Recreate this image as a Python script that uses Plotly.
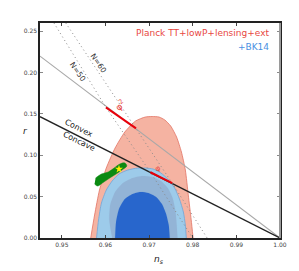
import plotly.graph_objects as go

# ---- data ----
salmon_ns = [0.95662, 0.95751, 0.95863, 0.96019, 0.96221, 0.96444, 0.96690, 0.96914, 0.97070,
             0.97227, 0.97361, 0.97495, 0.97630, 0.97741, 0.97831, 0.97898, 0.97965, 0.98009]
salmon_r = [0.0, 0.0278, 0.0580, 0.0846, 0.1088, 0.1282, 0.1415, 0.1463, 0.1469,
            0.1463, 0.1427, 0.1354, 0.1221, 0.1040, 0.0822, 0.0520, 0.0218, 0.0]

lblue_ns = [0.95796, 0.95841, 0.95908, 0.96019, 0.96154, 0.96310, 0.96511, 0.96735, 0.96914,
            0.97093, 0.97271, 0.97428, 0.97585, 0.97696, 0.97786, 0.97831, 0.97853]
lblue_r = [0.0, 0.0218, 0.0423, 0.0580, 0.0689, 0.0774, 0.0822, 0.0846, 0.0846,
           0.0834, 0.0786, 0.0713, 0.0605, 0.0472, 0.0314, 0.0157, 0.0]

gblue_ns = [0.96154, 0.96087, 0.96109, 0.96221, 0.96400, 0.96623, 0.96847, 0.97070,
            0.97271, 0.97428, 0.97540, 0.97607, 0.97652]
gblue_r = [0.0, 0.0218, 0.0399, 0.0556, 0.0665, 0.0726, 0.0750, 0.0738,
           0.0689, 0.0605, 0.0484, 0.0314, 0.0]

dblue_ns = [0.96221, 0.96243, 0.96310, 0.96444, 0.96623, 0.96802, 0.96981, 0.97160,
            0.97294, 0.97383, 0.97450, 0.97473]
dblue_r = [0.0, 0.0193, 0.0351, 0.0472, 0.0532, 0.0556, 0.0544, 0.0496,
           0.0411, 0.0302, 0.0157, 0.0]

green_ns = [0.95774, 0.95908, 0.96064, 0.96198, 0.96332, 0.96444, 0.96489, 0.96377,
            0.96243, 0.96064, 0.95930, 0.95818, 0.95751]
green_r = [0.0726, 0.0774, 0.0798, 0.0846, 0.0895, 0.0907, 0.0871, 0.0822,
           0.0774, 0.0713, 0.0665, 0.0629, 0.0653]
star_ns = [0.96310]
star_r = [0.0834]

gray_line_ns = [0.945, 1.0]
gray_line_r = [0.22, 0.0]
convex_line_ns = [0.945, 1.0]
convex_line_r = [0.1467, 0.0]

phi2_ns = [0.9601, 0.9670]
phi2_r = [0.158, 0.1325]
phi1_ns = [0.9703, 0.9753]
phi1_r = [0.0795, 0.0663]

n50_ns = [0.9482, 0.9601, 0.9703, 0.9800]
n50_r = [0.26, 0.158, 0.0795, 0.0]
n60_ns = [0.9509, 0.9670, 0.9753, 0.9833]
n60_r = [0.26, 0.1325, 0.0663, 0.0]

x_ticks = [0.95, 0.96, 0.97, 0.98, 0.99, 1.00]
x_ticklabels = ["0.95", "0.96", "0.97", "0.98", "0.99", "1.00"]
y_ticks = [0.00, 0.05, 0.10, 0.15, 0.20, 0.25]
y_ticklabels = ["0.00", "0.05", "0.10", "0.15", "0.20", "0.25"]

FONT = "DejaVu Sans"

fig = go.Figure()


def region(xs, ys, fill, line, width=0.8):
    fig.add_trace(go.Scatter(x=xs, y=ys, mode="lines", fill="toself", fillcolor=fill,
                             line=dict(color=line, width=width, shape="spline", smoothing=0.6),
                             hoverinfo="skip", showlegend=False))


region(salmon_ns, salmon_r, "#f5b3a2", "#e27464")
region(lblue_ns, lblue_r, "#9dcbea", "#6ea6d8")
region(gblue_ns, gblue_r, "#93b4d6", "#93b4d6", 0.1)
region(dblue_ns, dblue_r, "#2866cc", "#2866cc", 0.1)


def line(xs, ys, color, width, dash="solid"):
    fig.add_trace(go.Scatter(x=xs, y=ys, mode="lines", line=dict(color=color, width=width, dash=dash),
                             hoverinfo="skip", showlegend=False))


line(gray_line_ns, gray_line_r, "#a8a8a8", 1.1)
line(convex_line_ns, convex_line_r, "#222222", 1.3)
line(n50_ns, n50_r, "#8a8a8a", 1, "1px,3px")
line(n60_ns, n60_r, "#8a8a8a", 1, "1px,3px")
line(phi2_ns, phi2_r, "#e8000b", 2)
line(phi1_ns, phi1_r, "#e8000b", 2)

fig.add_trace(go.Scatter(x=green_ns, y=green_r, mode="lines", fill="toself", fillcolor="#0b8a12",
                         line=dict(color="#0b8a12", width=0.5, shape="spline"),
                         hoverinfo="skip", showlegend=False))
fig.add_trace(go.Scatter(x=star_ns, y=star_r, mode="markers",
                         marker=dict(symbol="star", size=6, color="#ffee00", line=dict(width=0)),
                         hoverinfo="skip", showlegend=False))

annotations = [
    dict(x=0.95402, y=0.133, xref="x", yref="y", text="Convex", textangle=26.4,
         font=dict(family=FONT, size=8, color="#222"), showarrow=False),
    dict(x=0.95402, y=0.1173, xref="x", yref="y", text="Concave", textangle=26.4,
         font=dict(family=FONT, size=8, color="#222"), showarrow=False),
    dict(x=0.9538, y=0.2007, xref="x", yref="y", text="N=50", textangle=56,
         font=dict(family=FONT, size=7.5, color="#333"), showarrow=False),
    dict(x=0.9585, y=0.2116, xref="x", yref="y", text="N=60", textangle=56,
         font=dict(family=FONT, size=7.5, color="#333"), showarrow=False),
    dict(x=0.9634, y=0.1608, xref="x", yref="y", text="φ<sup>2</sup>", textangle=-40,
         font=dict(family=FONT, size=9, color="#e8473f"), showarrow=False),
    dict(x=0.9719, y=0.0846, xref="x", yref="y", text="φ", textangle=-30,
         font=dict(family=FONT, size=7.5, color="#e8473f"), showarrow=False),
    dict(x=0.963, y=0.953, xref="paper", yref="paper", xanchor="right", yanchor="middle",
         text="Planck TT+lowP+lensing+ext", font=dict(family=FONT, size=9, color="#e8473f"),
         showarrow=False),
    dict(x=0.963, y=0.888, xref="paper", yref="paper", xanchor="right", yanchor="middle",
         text="+BK14", font=dict(family=FONT, size=9, color="#4a90e2"), showarrow=False),
    dict(x=-0.081, y=0.5, xref="paper", yref="paper", text="<i>r</i>",
         font=dict(family=FONT, size=9, color="#222"), showarrow=False),
    dict(x=0.496, y=-0.065, xref="paper", yref="paper", yanchor="top", text="<i>n<sub>s</sub></i>",
         font=dict(family=FONT, size=9, color="#222"), showarrow=False),
]

fig.update_layout(
    width=299, height=271,
    margin=dict(l=40, r=13, t=23, b=33),
    paper_bgcolor="white", plot_bgcolor="white",
    annotations=annotations,
    showlegend=False,
    shapes=[dict(type="line", xref="paper", yref="paper", x0=1, x1=1, y0=0, y1=1,
                 line=dict(color="#9a9a9a", width=2))],
)
fig.update_xaxes(range=[0.945, 1.0], tickvals=x_ticks, ticktext=x_ticklabels,
                 ticks="inside", ticklen=3, tickcolor="#444", showgrid=False, zeroline=False,
                 showline=True, linecolor="#222", linewidth=1.5, mirror="allticks",
                 tickfont=dict(family=FONT, size=6, color="#444"))
fig.update_yaxes(range=[0, 0.26], tickvals=y_ticks, ticktext=y_ticklabels,
                 ticks="inside", ticklen=3, tickcolor="#888", showgrid=False, zeroline=False,
                 showline=True, linecolor="#222", linewidth=1.5, mirror="allticks",
                 tickfont=dict(family=FONT, size=6, color="#444"))

fig.write_html("out.html", config={"displayModeBar": False},
               post_script="document.body.style.margin='0';document.body.style.overflow='hidden';")
